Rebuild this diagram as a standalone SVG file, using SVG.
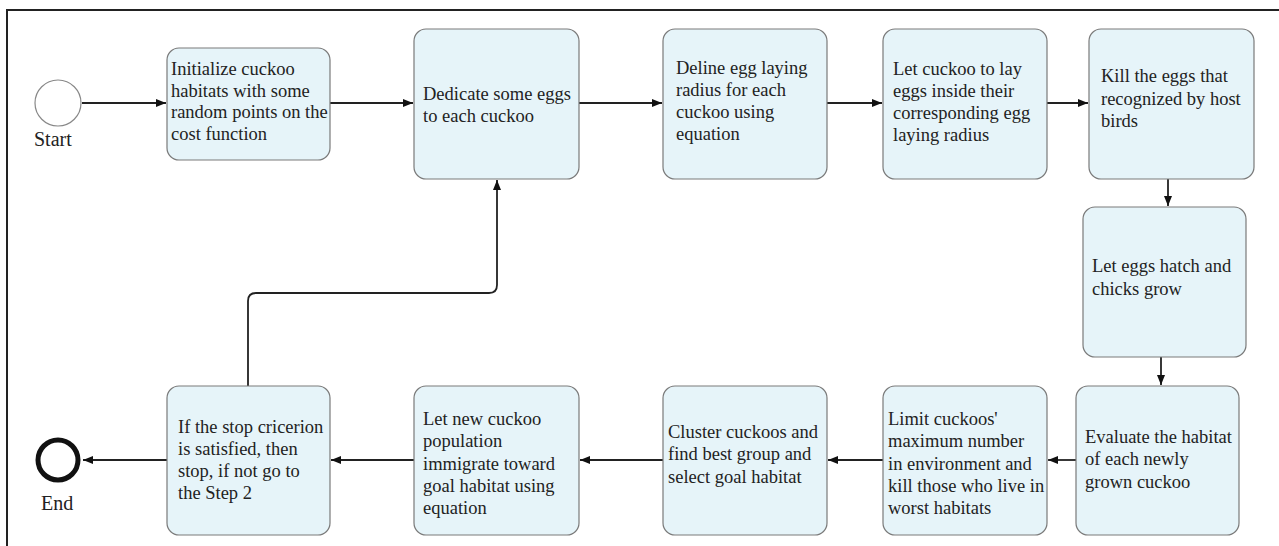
<svg xmlns="http://www.w3.org/2000/svg" width="1279" height="546" viewBox="0 0 1279 546">
<defs>
<marker id="ah" viewBox="0 0 10 10" refX="10" refY="5" markerWidth="10" markerHeight="10" markerUnits="userSpaceOnUse" orient="auto">
<path d="M0,1 L10,5 L0,9 Z" fill="#111"/>
</marker>
</defs>
<style>
.box{fill:#e6f4f9;stroke:#7a7a7a;stroke-width:1.2}
text{font-family:'Liberation Serif','Tinos','DejaVu Serif',serif;fill:#222}
.t{font-size:18.5px}
.lbl{font-size:20px}
.c{fill:none;stroke:#222;stroke-width:1.8;marker-end:url(#ah)}
</style>
<rect x="7" y="10" width="1320" height="600" fill="#fff" stroke="#222" stroke-width="2"/>
<g id="connectors">
<path class="c" d="M82,103 H166"/>
<path class="c" d="M330,103 H413"/>
<path class="c" d="M579,103 H662"/>
<path class="c" d="M827,103 H882"/>
<path class="c" d="M1047,103 H1088"/>
<path class="c" d="M1168,179 V206"/>
<path class="c" d="M1161,357 V385"/>
<path class="c" d="M1076,460 H1048"/>
<path class="c" d="M883,460 H828"/>
<path class="c" d="M663,460 H580"/>
<path class="c" d="M414,460 H331"/>
<path class="c" d="M167,460 H83"/>
<path class="c" d="M248,386 V301 Q248,293 256,293 H489 Q497,293 497,285 V180"/>
</g>
<g id="start">
<circle cx="58" cy="103" r="23" fill="#fff" stroke="#888" stroke-width="1.2"/>
<text class="lbl" x="34" y="146">Start</text>
</g>
<g id="end">
<circle cx="58" cy="460" r="20" fill="#fff" stroke="#111" stroke-width="5"/>
<text class="lbl" x="41" y="510">End</text>
</g>
<g id="n1">
<rect class="box" x="167" y="48" width="163" height="112" rx="12"/>
<text class="t" x="171" y="75">Initialize cuckoo</text>
<text class="t" x="171" y="97">habitats with some</text>
<text class="t" x="171" y="118">random points on the</text>
<text class="t" x="171" y="140">cost function</text>
</g>
<g id="n2">
<rect class="box" x="414" y="29" width="165" height="150" rx="12"/>
<text class="t" x="423" y="100">Dedicate some eggs</text>
<text class="t" x="423" y="122">to each cuckoo</text>
</g>
<g id="n3">
<rect class="box" x="663" y="29" width="164" height="150" rx="12"/>
<text class="t" x="676" y="74">Deline egg laying</text>
<text class="t" x="676" y="96">radius for each</text>
<text class="t" x="676" y="118">cuckoo using</text>
<text class="t" x="676" y="140">equation</text>
</g>
<g id="n4">
<rect class="box" x="883" y="29" width="164" height="150" rx="12"/>
<text class="t" x="893" y="75">Let cuckoo to lay</text>
<text class="t" x="893" y="97">eggs inside their</text>
<text class="t" x="893" y="119">corresponding egg</text>
<text class="t" x="893" y="141">laying radius</text>
</g>
<g id="n5">
<rect class="box" x="1089" y="29" width="165" height="150" rx="12"/>
<text class="t" x="1101" y="82">Kill the eggs that</text>
<text class="t" x="1101" y="105">recognized by host</text>
<text class="t" x="1101" y="127">birds</text>
</g>
<g id="n6">
<rect class="box" x="1083" y="207" width="163" height="150" rx="12"/>
<text class="t" x="1092" y="272">Let eggs hatch and</text>
<text class="t" x="1092" y="295">chicks grow</text>
</g>
<g id="n7">
<rect class="box" x="1076" y="386" width="163" height="149" rx="12"/>
<text class="t" x="1085" y="443">Evaluate the habitat</text>
<text class="t" x="1085" y="465">of each newly</text>
<text class="t" x="1085" y="488">grown cuckoo</text>
</g>
<g id="n8">
<rect class="box" x="883" y="386" width="164" height="149" rx="12"/>
<text class="t" x="888" y="425">Limit cuckoos'</text>
<text class="t" x="888" y="447">maximum number</text>
<text class="t" x="888" y="470">in environment and</text>
<text class="t" x="888" y="492">kill those who live in</text>
<text class="t" x="888" y="514">worst habitats</text>
</g>
<g id="n9">
<rect class="box" x="663" y="386" width="164" height="149" rx="12"/>
<text class="t" x="668" y="438">Cluster cuckoos and</text>
<text class="t" x="668" y="460">find best group and</text>
<text class="t" x="668" y="483">select goal habitat</text>
</g>
<g id="n10">
<rect class="box" x="414" y="386" width="165" height="149" rx="12"/>
<text class="t" x="423" y="425">Let new cuckoo</text>
<text class="t" x="423" y="447">population</text>
<text class="t" x="423" y="470">immigrate toward</text>
<text class="t" x="423" y="492">goal habitat using</text>
<text class="t" x="423" y="514">equation</text>
</g>
<g id="n11">
<rect class="box" x="167" y="386" width="163" height="149" rx="12"/>
<text class="t" x="178" y="433">If the stop cricerion</text>
<text class="t" x="178" y="455">is satisfied, then</text>
<text class="t" x="178" y="477">stop, if not go to</text>
<text class="t" x="178" y="499">the Step 2</text>
</g>
</svg>
